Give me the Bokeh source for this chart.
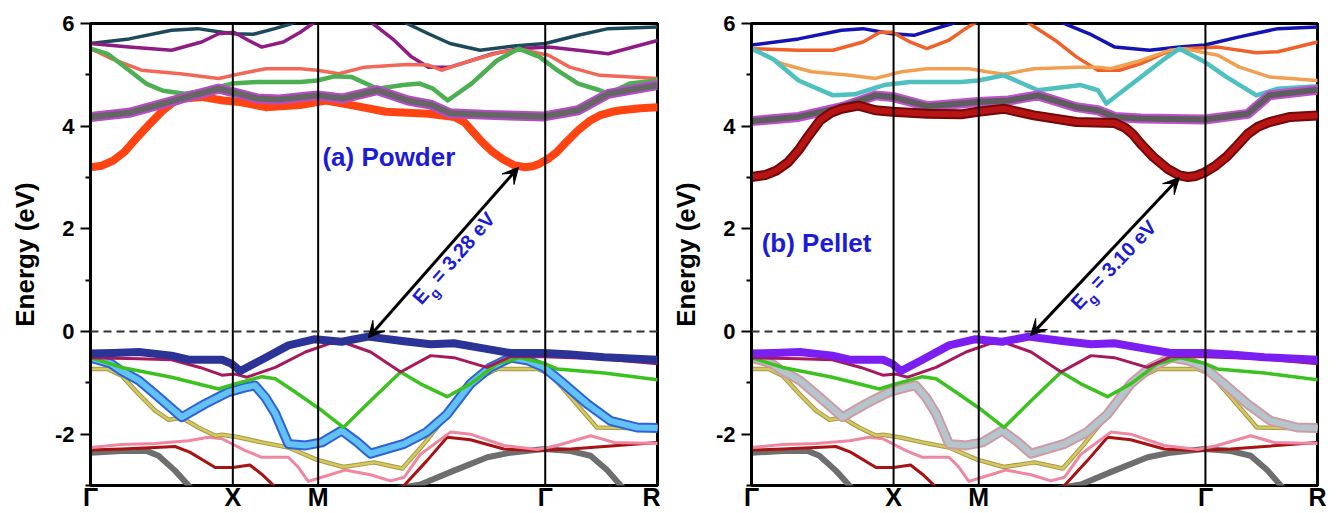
import math
from bokeh.plotting import figure
from bokeh.layouts import row
from bokeh.models import Span, Label, Arrow, VeeHead, FixedTicker, Range1d
from bokeh.embed import file_html
from bokeh.resources import INLINE

nan = float("nan")

# ---------------- axes / k-path ----------------
K_POS = [0.0, 0.251, 0.4015, 0.802, 1.0]
K_LABELS = ["Γ", "X", "M", "Γ", "R"]
Y_MIN, Y_MAX = -3.0, 6.0
Y_TICKS = [-2, 0, 2, 4, 6]
Y_TICK_LABELS = ["-2", "0", "2", "4", "6"]
Y_MINOR = [-3, -1, 1, 3, 5]

# ---------------- valence bands (same in both panels) ----------------
VB1_K = [0.0, 0.04, 0.085, 0.143, 0.173, 0.232, 0.249, 0.264, 0.302, 0.349, 0.396, 0.443, 0.49, 0.553, 0.600, 0.641, 0.688, 0.741, 0.80, 0.847, 0.906, 1.0]
VB1_E = [-0.43, -0.42, -0.40, -0.47, -0.55, -0.55, -0.63, -0.77, -0.55, -0.27, -0.15, -0.20, -0.10, -0.19, -0.25, -0.23, -0.32, -0.42, -0.42, -0.45, -0.50, -0.55]

VB2_K = [0.0, 0.085, 0.143, 0.193, 0.232, 0.255, 0.276, 0.326, 0.379, 0.42, 0.443, 0.494, 0.547, 0.60, 0.641, 0.699, 0.741, 0.80, 0.90, 1.0]
VB2_E = [-0.51, -0.53, -0.55, -0.70, -0.85, -0.83, -0.89, -0.70, -0.40, -0.24, -0.20, -0.40, -0.79, -0.47, -0.51, -0.70, -0.49, -0.49, -0.53, -0.63]

VB3_K = [0.0, 0.055, 0.143, 0.226, 0.255, 0.302, 0.326, 0.361, 0.408, 0.446, 0.494, 0.547, 0.582, 0.629, 0.67, 0.717, 0.758, 0.80, 0.823, 0.906, 1.0]
VB3_E = [-0.51, -0.70, -0.89, -1.12, -1.02, -0.88, -0.92, -1.18, -1.54, -1.87, -1.35, -0.79, -1.02, -1.27, -1.02, -0.63, -0.51, -0.62, -0.73, -0.81, -0.94]

VB4_K = [0.0, 0.035, 0.052, 0.085, 0.114, 0.161, 0.202, 0.243, 0.273, 0.29, 0.308, 0.326, 0.349, 0.379, 0.408, 0.443, 0.47, 0.494, 0.553, 0.593, 0.629, 0.67, 0.705, 0.741, 0.77, 0.80, 0.835, 0.876, 0.917, 0.964, 1.0]
VB4_E = [-0.51, -0.62, -0.75, -0.95, -1.22, -1.67, -1.41, -1.18, -1.09, -1.05, -1.28, -1.60, -2.19, -2.22, -2.16, -1.93, -2.15, -2.38, -2.19, -1.96, -1.61, -1.02, -0.70, -0.51, -0.56, -0.70, -1.02, -1.41, -1.74, -1.87, -1.88]

VB5_K = [0.0, 0.03, 0.055, 0.085, 0.114, 0.138, 0.161, 0.19, 0.22, 0.232, 0.261, 0.302, 0.349, 0.40, 0.446, 0.50, 0.55, 0.588, 0.611, 0.647, 0.682, 0.717, 0.788, 0.811, 0.847, 0.893, 0.95, 1.0]
VB5_E = [-0.73, -0.73, -0.86, -1.22, -1.54, -1.72, -1.68, -1.87, -2.03, -2.01, -2.06, -2.16, -2.26, -2.50, -2.64, -2.55, -2.67, -2.19, -1.87, -1.38, -0.92, -0.73, -0.73, -0.83, -1.28, -1.87, -1.88, -1.85]

VB6_K = [0.0, 0.055, 0.114, 0.173, 0.208, 0.232, 0.273, 0.302, 0.349, 0.367, 0.384, 0.408, 0.449, 0.494, 0.529, 0.553, 0.582, 0.635, 0.67, 0.729, 0.788, 0.823, 0.882, 0.923, 1.0]
VB6_E = [-2.26, -2.20, -2.18, -2.13, -2.06, -2.09, -2.32, -2.45, -2.45, -2.65, -2.92, -2.84, -2.70, -2.79, -2.91, -2.84, -2.39, -1.96, -2.00, -2.22, -2.30, -2.22, -2.03, -2.16, -2.18]

VB7_K = [0.0, 0.055, 0.114, 0.149, 0.175, 0.22, 0.251, 0.281, 0.302, 0.323, 0.34, nan, 0.545, 0.553, 0.593, 0.629, 0.67, 0.729, 0.788, 0.847, 0.906, 1.0]
VB7_E = [-2.31, -2.29, -2.26, -2.24, -2.35, -2.65, -2.65, -2.60, -2.78, -3.0, -3.15, nan, -3.1, -3.0, -2.52, -2.06, -2.11, -2.29, -2.32, -2.29, -2.24, -2.16]

VB8_K = [0.0, 0.055, 0.10, 0.12, 0.149, 0.173, 0.18, nan, 0.545, 0.582, 0.641, 0.70, 0.741, 0.80, 0.847, 0.882, 0.912, 0.935, 0.94]
VB8_E = [-2.36, -2.33, -2.33, -2.42, -2.71, -3.0, -3.08, nan, -3.05, -2.98, -2.71, -2.45, -2.36, -2.29, -2.33, -2.42, -2.71, -3.0, -3.05]

# ---------------- conduction bands, (a) Powder ----------------
PA_C1_K = [0.0, 0.02, 0.04, 0.06, 0.083, 0.105, 0.128, 0.145, 0.165, 0.196, 0.234, 0.264, 0.309, 0.37, 0.415, 0.46, 0.521, 0.596, 0.642, 0.66, 0.672, 0.69, 0.709, 0.728, 0.747, 0.766, 0.78, 0.792, 0.808, 0.823, 0.84, 0.86, 0.88, 0.898, 0.92, 0.936, 0.97, 1.0]
PA_C1_E = [3.20, 3.23, 3.33, 3.50, 3.79, 4.05, 4.31, 4.46, 4.54, 4.57, 4.50, 4.47, 4.37, 4.41, 4.50, 4.41, 4.28, 4.24, 4.18, 4.07, 3.92, 3.70, 3.50, 3.35, 3.24, 3.20, 3.22, 3.27, 3.37, 3.50, 3.70, 3.92, 4.10, 4.21, 4.28, 4.31, 4.35, 4.37]

PA_C2_K = [0.0, 0.068, 0.128, 0.181, 0.226, 0.249, 0.294, 0.332, 0.40, 0.445, 0.506, 0.56, 0.60, 0.634, 0.70, 0.80, 0.86, 0.913, 1.0]
PA_C2_E = [4.18, 4.26, 4.44, 4.60, 4.73, 4.67, 4.54, 4.52, 4.60, 4.54, 4.70, 4.50, 4.42, 4.25, 4.22, 4.19, 4.31, 4.63, 4.80]

PA_C3_K = [0.0, 0.03, 0.068, 0.098, 0.128, 0.166, 0.204, 0.249, 0.294, 0.37, 0.40, 0.43, 0.46, 0.506, 0.551, 0.581, 0.604, 0.63, 0.672, 0.717, 0.755, 0.792, 0.823, 0.86, 0.898, 0.913, 0.951, 1.0]
PA_C3_E = [5.51, 5.41, 5.09, 4.83, 4.69, 4.63, 4.70, 4.83, 4.86, 4.86, 4.89, 4.97, 4.96, 4.73, 4.80, 4.83, 4.73, 4.50, 4.83, 5.28, 5.51, 5.35, 5.09, 4.83, 4.70, 4.63, 4.83, 4.89]

PA_C4_K = [0.0, 0.038, 0.09, 0.158, 0.226, 0.264, 0.309, 0.37, 0.40, 0.438, 0.483, 0.558, 0.596, 0.619, 0.672, 0.725, 0.762, 0.808, 0.845, 0.898, 1.0]
PA_C4_E = [5.51, 5.31, 5.09, 5.02, 4.93, 5.02, 5.12, 5.12, 5.09, 5.02, 5.15, 5.20, 5.19, 5.09, 5.28, 5.45, 5.49, 5.38, 5.15, 4.99, 4.93]

PA_C5_K = [0.0, 0.068, 0.143, 0.196, 0.226, 0.253, 0.279, 0.302, 0.34, 0.37, 0.392, 0.40, nan, 0.49, 0.498, 0.536, 0.566, 0.596, 0.634, 0.672, 0.709, 0.755, 0.808, 0.86, 0.913, 1.0]
PA_C5_E = [5.61, 5.54, 5.48, 5.64, 5.80, 5.83, 5.67, 5.54, 5.64, 5.83, 6.00, 6.06, nan, 6.06, 6.00, 5.67, 5.35, 5.15, 5.15, 5.28, 5.41, 5.51, 5.54, 5.48, 5.41, 5.67]

PA_C6_K = [0.0, 0.068, 0.143, 0.189, 0.226, 0.253, 0.287, 0.325, 0.355, 0.365, nan, 0.55, 0.558, 0.596, 0.634, 0.687, 0.747, 0.802, 0.86, 0.913, 1.0]
PA_C6_E = [5.61, 5.70, 5.87, 5.90, 5.84, 5.80, 5.79, 5.90, 6.00, 6.05, nan, 6.05, 6.00, 5.80, 5.61, 5.48, 5.56, 5.61, 5.77, 5.90, 5.93]

# ---------------- conduction bands, (b) Pellet ----------------
PB_C1_K = [0.0, 0.025, 0.045, 0.065, 0.083, 0.10, 0.121, 0.14, 0.159, 0.189, 0.219, 0.249, 0.31, 0.37, 0.40, 0.446, 0.499, 0.574, 0.642, 0.66, 0.673, 0.69, 0.71, 0.735, 0.756, 0.771, 0.785, 0.801, 0.82, 0.839, 0.858, 0.877, 0.895, 0.915, 0.952, 1.0]
PB_C1_E = [3.01, 3.05, 3.14, 3.30, 3.53, 3.80, 4.11, 4.26, 4.34, 4.40, 4.31, 4.28, 4.24, 4.23, 4.28, 4.34, 4.21, 4.08, 4.06, 3.97, 3.85, 3.63, 3.40, 3.17, 3.04, 3.01, 3.03, 3.10, 3.23, 3.40, 3.62, 3.85, 3.99, 4.08, 4.18, 4.21]

PB_C2_K = [0.0, 0.083, 0.159, 0.219, 0.249, 0.31, 0.37, 0.40, 0.454, 0.506, 0.574, 0.612, 0.642, 0.688, 0.801, 0.877, 0.915, 1.0]
PB_C2_E = [4.10, 4.18, 4.37, 4.60, 4.57, 4.39, 4.44, 4.47, 4.50, 4.60, 4.37, 4.31, 4.18, 4.15, 4.13, 4.24, 4.60, 4.71]

PB_C3_K = [0.0, 0.038, 0.083, 0.144, 0.182, 0.234, 0.28, 0.37, 0.40, 0.446, 0.506, 0.582, 0.612, 0.627, 0.68, 0.726, 0.756, 0.801, 0.839, 0.892, 0.93, 1.0]
PB_C3_E = [5.51, 5.31, 4.89, 4.60, 4.62, 4.80, 4.86, 4.86, 4.89, 4.99, 4.70, 4.80, 4.70, 4.44, 4.89, 5.28, 5.51, 5.25, 4.96, 4.60, 4.73, 4.78]

PB_C4_K = [0.0, 0.053, 0.106, 0.174, 0.219, 0.265, 0.31, 0.385, 0.416, 0.446, 0.499, 0.574, 0.612, 0.635, 0.688, 0.74, 0.763, 0.824, 0.862, 0.915, 1.0]
PB_C4_E = [5.51, 5.22, 5.06, 4.99, 4.93, 5.06, 5.12, 5.12, 5.06, 5.01, 5.12, 5.15, 5.15, 5.12, 5.28, 5.48, 5.51, 5.38, 5.15, 4.96, 4.89]

PB_C5_K = [0.0, 0.083, 0.144, 0.197, 0.227, 0.249, 0.28, 0.31, 0.348, 0.378, 0.393, 0.40, nan, 0.483, 0.491, 0.537, 0.574, 0.612, 0.65, 0.688, 0.726, 0.763, 0.824, 0.892, 0.93, 1.0]
PB_C5_E = [5.51, 5.48, 5.48, 5.64, 5.83, 5.83, 5.64, 5.51, 5.67, 5.90, 6.00, 6.06, nan, 6.06, 6.00, 5.67, 5.35, 5.09, 5.09, 5.22, 5.41, 5.51, 5.54, 5.43, 5.45, 5.64]

PB_C6_K = [0.0, 0.083, 0.159, 0.197, 0.227, 0.249, 0.287, 0.325, 0.355, 0.365, nan, 0.545, 0.552, 0.597, 0.642, 0.703, 0.756, 0.801, 0.862, 0.93, 1.0]
PB_C6_E = [5.58, 5.70, 5.87, 5.90, 5.84, 5.80, 5.77, 5.90, 6.00, 6.05, nan, 6.05, 6.00, 5.80, 5.54, 5.48, 5.54, 5.58, 5.74, 5.90, 5.93]

# ---------------- annotations ----------------
PANEL_TITLES = ["(a) Powder", "(b) Pellet"]
GAP_TEXT = ["= 3.28 eV", "= 3.10 eV"]
GAP_VBM = [(0.49, -0.12), (0.493, -0.08)]
GAP_CBM = [(0.755, 3.20), (0.756, 3.00)]

FONT = "Liberation Sans"
BLUE_TXT = "#1c1cd6"


def draw_band(p, k, e, color, width, under=None, under_width=None):
    if under is not None:
        p.line(k, e, line_color=under, line_width=under_width, line_cap="round", line_join="round")
    p.line(k, e, line_color=color, line_width=width, line_cap="round", line_join="round")


def make_panel(width, border_left, border_right):
    p = figure(width=width, height=513, x_range=Range1d(0, 1), y_range=Range1d(Y_MIN, Y_MAX),
               output_backend="svg", toolbar_location=None,
               min_border_left=border_left, min_border_right=border_right,
               min_border_top=23, min_border_bottom=28)
    p.grid.visible = False
    p.background_fill_color = "white"
    p.border_fill_color = "white"
    p.outline_line_color = "black"
    p.outline_line_width = 3
    # x axis: high-symmetry points
    xa = p.xaxis[0]
    xa.ticker = FixedTicker(ticks=K_POS, minor_ticks=[])
    xa.major_label_overrides = {kp: lab for kp, lab in zip(K_POS, K_LABELS)}
    xa.axis_line_color = None
    xa.major_tick_line_color = None
    xa.major_tick_out = 0
    xa.major_tick_in = 0
    xa.minor_tick_line_color = None
    xa.major_label_standoff = -3
    xa.major_label_text_font = FONT
    xa.major_label_text_font_style = "bold"
    xa.major_label_text_font_size = "25px"
    xa.major_label_text_color = "black"
    # y axis: energy
    ax = p.yaxis[0]
    ax.ticker = FixedTicker(ticks=Y_TICKS, minor_ticks=Y_MINOR)
    ax.major_label_overrides = {t: s for t, s in zip(Y_TICKS, Y_TICK_LABELS)}
    ax.axis_line_color = "black"
    ax.axis_line_width = 3
    ax.major_tick_line_width = 2
    ax.major_tick_out = 10
    ax.major_tick_in = 0
    ax.minor_tick_line_width = 2
    ax.minor_tick_out = 5
    ax.minor_tick_in = 0
    ax.major_label_text_font = FONT
    ax.major_label_text_font_style = "bold"
    ax.major_label_text_font_size = "22px"
    ax.major_label_text_color = "black"
    ax.major_label_standoff = 6
    ax.axis_label = "Energy (eV)"
    ax.axis_label_text_font = FONT
    ax.axis_label_text_font_style = "bold"
    ax.axis_label_text_font_size = "26px"
    ax.axis_label_text_color = "black"
    ax.axis_label_standoff = 12
    return p


def decorate(p, idx):
    for kp in K_POS[1:-1]:
        p.add_layout(Span(location=kp, dimension="height", line_color="black", line_width=2))
    p.add_layout(Span(location=0, dimension="width", line_color="#333333", line_width=2, line_dash="8 5"))
    (x0, y0), (x1, y1) = GAP_VBM[idx], GAP_CBM[idx]
    p.add_layout(Arrow(x_start=x0, y_start=y0, x_end=x1, y_end=y1, line_color="black", line_width=3,
                       start=VeeHead(size=16, fill_color="black", line_color="black"),
                       end=VeeHead(size=16, fill_color="black", line_color="black")))


left = make_panel(660, 90, 3)
right = make_panel(680, 91, 23)

VB_STYLE = [
    (VB8_K, VB8_E, "#6e6e6e", 6, None, None),
    (VB7_K, VB7_E, "#a81212", 3, None, None),
    (VB6_K, VB6_E, "#ef86a2", 3, None, None),
    (VB5_K, VB5_E, "#d6c85e", 2.5, "#a39a48", 4.5),
]

for p, idx in ((left, 0), (right, 1)):
    for k, e, c, w, u, uw in VB_STYLE:
        draw_band(p, k, e, c, w, u, uw)
    if idx == 0:
        draw_band(p, VB4_K, VB4_E, "#62c2f4", 6, "#2f62d6", 10)
    else:
        draw_band(p, VB4_K, VB4_E, "#b4c6cc", 6, "#cf9aa6", 10)
    draw_band(p, VB3_K, VB3_E, "#3cc21e", 3.5)
    draw_band(p, VB2_K, VB2_E, "#a8185c", 3)
    if idx == 0:
        draw_band(p, VB1_K, VB1_E, "#2b3396", 8)
    else:
        draw_band(p, VB1_K, VB1_E, "#7a1ef2", 8)

# conduction bands, panel (a)
draw_band(left, PA_C6_K, PA_C6_E, "#1c4a5a", 3.5)
draw_band(left, PA_C5_K, PA_C5_E, "#8e1c84", 3.5)
draw_band(left, PA_C4_K, PA_C4_E, "#f26858", 3.5)
draw_band(left, PA_C3_K, PA_C3_E, "#4cb052", 4.5)
draw_band(left, PA_C1_K, PA_C1_E, "#ff4412", 8)
draw_band(left, PA_C2_K, PA_C2_E, "#666666", 6, "#b84cc8", 10)

# conduction bands, panel (b)
draw_band(right, PB_C6_K, PB_C6_E, "#1414b4", 3.5)
draw_band(right, PB_C5_K, PB_C5_E, "#f06028", 3.5)
draw_band(right, PB_C4_K, PB_C4_E, "#f0a050", 3.5)
draw_band(right, PB_C3_K, PB_C3_E, "#4ec0c0", 4.5)
draw_band(right, PB_C2_K, PB_C2_E, "#5e5e5e", 6, "#c050d0", 10)
draw_band(right, PB_C1_K, PB_C1_E, "#b81414", 6, "#720808", 10)

decorate(left, 0)
decorate(right, 1)

left.add_layout(Label(x=0.409, y=3.39, text=PANEL_TITLES[0], text_baseline="middle",
                      text_font=FONT, text_font_style="bold", text_font_size="26px", text_color=BLUE_TXT))
right.add_layout(Label(x=0.018, y=1.72, text=PANEL_TITLES[1], text_baseline="middle",
                       text_font=FONT, text_font_style="bold", text_font_size="26px", text_color=BLUE_TXT))


def gap_label(p, kx, ey, deg, text):
    th = math.radians(deg)
    ca, sa = math.cos(th), math.sin(th)

    def off(along, down):
        return along * ca + down * sa, along * sa - down * ca

    p.add_layout(Label(x=kx, y=ey, text="E", angle=th, text_font=FONT, text_font_style="bold",
                       text_font_size="20px", text_color=BLUE_TXT))
    dx, dy = off(14, 6)
    p.add_layout(Label(x=kx, y=ey, x_offset=dx, y_offset=dy, text="g", angle=th, text_font=FONT,
                       text_font_style="bold", text_font_size="14px", text_color=BLUE_TXT))
    dx, dy = off(28, 0)
    p.add_layout(Label(x=kx, y=ey, x_offset=dx, y_offset=dy, text=text, angle=th, text_font=FONT,
                       text_font_style="bold", text_font_size="20px", text_color=BLUE_TXT))


gap_label(left, 0.589, 0.45, 49, GAP_TEXT[0])
gap_label(right, 0.584, 0.345, 46.5, GAP_TEXT[1])

layout = row(left, right)
open("out.html", "w").write(file_html(layout, INLINE))
